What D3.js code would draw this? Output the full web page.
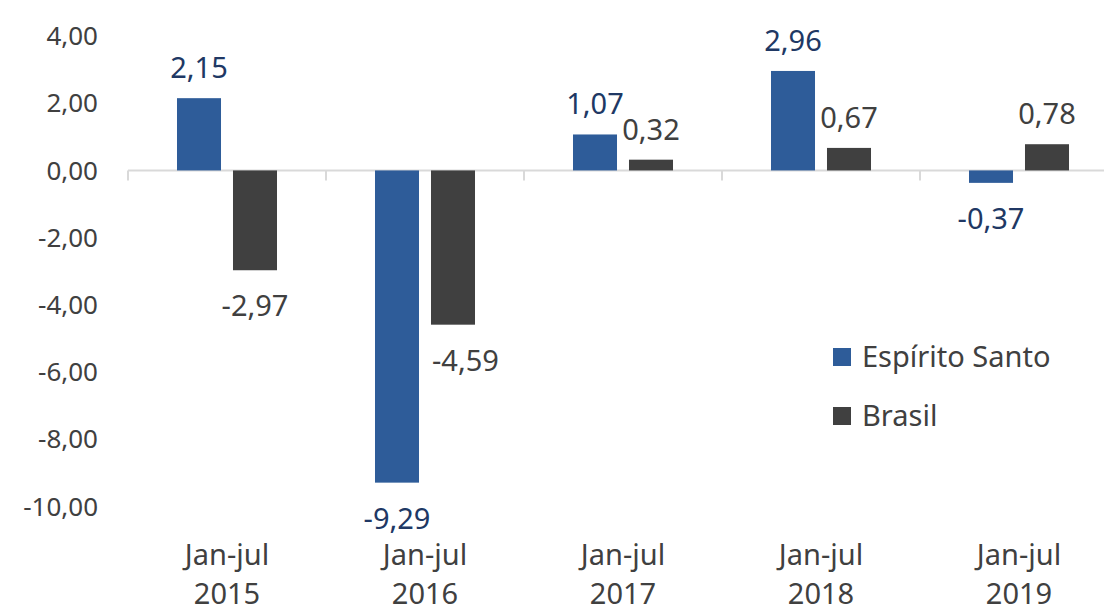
<!DOCTYPE html>
<html>
<head>
<meta charset="utf-8">
<script src="https://cdn.jsdelivr.net/npm/d3@7"></script>
<style>
  body { margin: 0; background: #fff; }
  svg { font-family: "Noto Sans", "Open Sans", sans-serif; }
</style>
</head>
<body>
<div id="chart"></div>
<script>
const categories = ["Jan-jul\n2015", "Jan-jul\n2016", "Jan-jul\n2017", "Jan-jul\n2018", "Jan-jul\n2019"];
const espiritoSanto = [2.15, -9.29, 1.07, 2.96, -0.37];
const brasil = [-2.97, -4.59, 0.32, 0.67, 0.78];
const yTicks = [4, 2, 0, -2, -4, -6, -8, -10];
const seriesNames = ["Espírito Santo", "Brasil"];

const width = 1104, height = 608;
const colors = ["#2E5C99", "#404040"];
const labelColors = ["#203864", "#404040"];
const fmt = v => v.toFixed(2).replace(".", ",");

const svg = d3.select("#chart").append("svg")
    .attr("width", width)
    .attr("height", height);

const x = d3.scaleBand()
    .domain(categories)
    .range([128, 1118]);

const y = d3.scaleLinear()
    .domain([-10, 4])
    .range([506.5, 36]);

const inner = d3.scaleBand()
    .domain([0, 1])
    .range([0, x.bandwidth()])
    .paddingInner(0.214)
    .paddingOuter(0.875);

// y tick labels
svg.append("g")
    .selectAll("text")
    .data(yTicks)
    .join("text")
    .attr("x", 98)
    .attr("y", d => y(d))
    .attr("dy", "0.35em")
    .attr("text-anchor", "end")
    .style("fill", "#404040")
    .style("font-size", "26px")
    .text(fmt);

// zero axis line + ticks
svg.append("line")
    .attr("x1", x.range()[0]).attr("x2", width)
    .attr("y1", y(0)).attr("y2", y(0))
    .style("stroke", "#d9d9d9").style("stroke-width", 2);

svg.append("g")
    .selectAll("line")
    .data(categories)
    .join("line")
    .attr("x1", d => x(d)).attr("x2", d => x(d))
    .attr("y1", y(0)).attr("y2", y(0) + 10)
    .style("stroke", "#d9d9d9").style("stroke-width", 2);

const series = [espiritoSanto, brasil];

series.forEach((vals, si) => {
    const g = svg.append("g");
    g.selectAll("rect")
        .data(vals)
        .join("rect")
        .attr("x", (d, i) => x(categories[i]) + inner(si))
        .attr("y", d => y(Math.max(0, d)))
        .attr("width", inner.bandwidth())
        .attr("height", d => Math.abs(y(d) - y(0)))
        .style("fill", colors[si]);

    g.selectAll("text")
        .data(vals)
        .join("text")
        .attr("x", (d, i) => x(categories[i]) + inner(si) + inner.bandwidth() / 2)
        .attr("y", d => d >= 0 ? y(d) - 20 : y(d) + 46)
        .attr("text-anchor", "middle")
        .style("fill", labelColors[si])
        .style("font-size", "29px")
        .text(fmt)
        .each(function(d, i) {
            // nudge the Brasil label right if it touches the neighbouring bar
            if (si !== 1) return;
            const other = espiritoSanto[i];
            const ly = d >= 0 ? y(d) - 20 : y(d) + 46;
            const top = y(Math.max(0, other)), bot = y(Math.min(0, other));
            const neighbourRight = x(categories[i]) + inner(0) + inner.bandwidth();
            const bb = this.getBBox();
            if (ly - 22 < bot && ly > top && bb.x < neighbourRight + 4) {
                d3.select(this).attr("x", +d3.select(this).attr("x") + (neighbourRight + 13 - bb.x));
            }
        });
});

// category labels
const cat = svg.append("g")
    .selectAll("text")
    .data(categories)
    .join("text")
    .attr("x", d => x(d) + x.bandwidth() / 2)
    .attr("y", 565)
    .attr("text-anchor", "middle")
    .style("fill", "#404040")
    .style("font-size", "29px");

cat.each(function(d) {
    const parts = d.split("\n");
    d3.select(this).selectAll("tspan")
        .data(parts)
        .join("tspan")
        .attr("x", x(d) + x.bandwidth() / 2)
        .attr("dy", (p, i) => i === 0 ? 0 : 39)
        .text(p => p);
});

// legend
const legend = svg.append("g")
    .selectAll("g")
    .data(seriesNames)
    .join("g")
    .attr("transform", (d, i) => `translate(833, ${348 + i * 59})`);

legend.append("rect")
    .attr("width", 18).attr("height", 18)
    .style("fill", (d, i) => colors[i]);

legend.append("text")
    .attr("x", 29)
    .attr("y", 19)
    .style("fill", "#404040")
    .style("font-size", "29px")
    .text(d => d);
</script>
</body>
</html>
